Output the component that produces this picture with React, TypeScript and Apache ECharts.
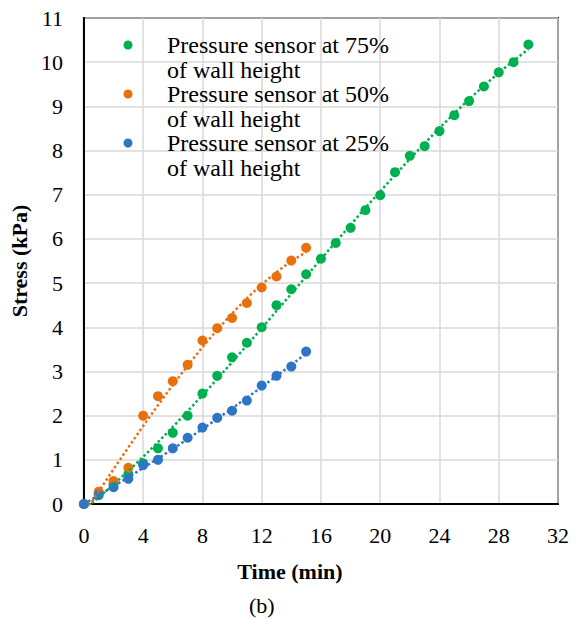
import React, { useEffect, useRef } from "react";
import * as echarts from "echarts";

// Elapsed time (min) at each reading
const time75 = [0, 1, 2, 3, 4, 5, 6, 7, 8, 9, 10, 11, 12, 13, 14, 15, 16, 17, 18, 19, 20, 21, 22, 23, 24, 25, 26, 27, 28, 29, 30];
const time50 = [0, 1, 2, 3, 4, 5, 6, 7, 8, 9, 10, 11, 12, 13, 14, 15];
const time25 = [0, 1, 2, 3, 4, 5, 6, 7, 8, 9, 10, 11, 12, 13, 14, 15];

// Measured stress (kPa)
const stress75 = [0, 0.25, 0.45, 0.68, 0.92, 1.26, 1.61, 2.0, 2.5, 2.9, 3.32, 3.65, 4.0, 4.5, 4.86, 5.2, 5.55, 5.91, 6.25, 6.65, 6.99, 7.51, 7.88, 8.1, 8.44, 8.8, 9.12, 9.45, 9.77, 10.0, 10.4];
const stress50 = [0, 0.28, 0.52, 0.82, 2.0, 2.44, 2.78, 3.15, 3.7, 3.98, 4.21, 4.55, 4.9, 5.15, 5.51, 5.8];
const stress25 = [0, 0.2, 0.38, 0.57, 0.88, 1.0, 1.26, 1.5, 1.73, 1.95, 2.11, 2.34, 2.68, 2.9, 3.11, 3.45];

const seriesNames = [
  "Pressure sensor at 75%\nof wall height",
  "Pressure sensor at 50%\nof wall height",
  "Pressure sensor at 25%\nof wall height",
];
const seriesColors = ["#00B050", "#E8700F", "#2E75C6"];
// Polynomial order of each dotted trendline
const trendOrders = [3, 3, 2];

const FONT = "Liberation Serif";

// Least-squares polynomial trendline of the given order
function polyFit(xs: number[], ys: number[], order: number) {
  const n = order + 1;
  const m: number[][] = [];
  for (let r = 0; r < n; r++) {
    const row: number[] = [];
    for (let c = 0; c < n; c++) {
      let s = 0;
      for (let i = 0; i < xs.length; i++) s += Math.pow(xs[i], r + c);
      row.push(s);
    }
    let t = 0;
    for (let i = 0; i < xs.length; i++) t += Math.pow(xs[i], r) * ys[i];
    row.push(t);
    m.push(row);
  }
  for (let c = 0; c < n; c++) {
    let p = c;
    for (let r = c + 1; r < n; r++) if (Math.abs(m[r][c]) > Math.abs(m[p][c])) p = r;
    [m[c], m[p]] = [m[p], m[c]];
    for (let r = 0; r < n; r++) {
      if (r === c) continue;
      const f = m[r][c] / m[c][c];
      for (let k = c; k <= n; k++) m[r][k] -= f * m[c][k];
    }
  }
  const coef = m.map((row, i) => row[n] / row[i]);
  return (x: number) => coef.reduce((acc, a, i) => acc + a * Math.pow(x, i), 0);
}

function trendPoints(xs: number[], ys: number[], order: number) {
  const f = polyFit(xs, ys, order);
  const xMax = xs[xs.length - 1];
  const pts: number[][] = [];
  for (let i = 0; i <= 300; i++) {
    const x = (xMax * i) / 300;
    pts.push([x, f(x)]);
  }
  return pts;
}

export default function App() {
  const ref = useRef<HTMLDivElement>(null);

  useEffect(() => {
    if (!ref.current) return;
    const chart = echarts.init(ref.current, undefined, { renderer: "svg" });
    const groups = [
      [time75, stress75],
      [time50, stress50],
      [time25, stress25],
    ];

    const scatterSeries = groups.map(([xs, ys], i) => ({
      type: "scatter",
      name: seriesNames[i],
      data: xs.map((x, j) => [x, ys[j]]),
      symbol: "circle",
      symbolSize: 10,
      itemStyle: { color: seriesColors[i], opacity: 1 },
      z: 3,
    }));

    const trendSeries = groups.map(([xs, ys], i) => ({
      type: "line",
      name: seriesNames[i] + " trend",
      data: trendPoints(xs, ys, trendOrders[i]),
      showSymbol: false,
      symbol: "none",
      clip: true,
      lineStyle: { color: seriesColors[i], width: 2.5, type: "dotted" },
      z: 4,
      silent: true,
    }));

    // Legend: a marker and two text lines for each sensor
    const legendY = [45, 94, 143];
    const legendFontSize = 24;
    const lineGap = 25;
    const legendMarkers = seriesNames.map((_, i) => ({
      type: "circle",
      shape: { cx: 128, cy: legendY[i], r: 4.5 },
      style: { fill: seriesColors[i] },
      silent: true,
    }));
    const legendTexts: any[] = [];
    seriesNames.forEach((name, i) => {
      name.split("\n").forEach((line, k) => {
        legendTexts.push({
          text: line,
          left: 167,
          top: legendY[i] + k * lineGap - legendFontSize / 2,
          padding: 0,
          textStyle: {
            fontFamily: FONT,
            fontSize: legendFontSize,
            fontWeight: "normal",
            lineHeight: legendFontSize,
            color: "#000",
          },
        });
      });
    });

    chart.setOption({
      animation: false,
      backgroundColor: "#fff",
      textStyle: { fontFamily: FONT },
      title: [
        {
          text: "(b)",
          left: 249,
          top: 594,
          padding: 0,
          textStyle: { fontFamily: FONT, fontSize: 22, fontWeight: "normal", color: "#000" },
        },
        ...legendTexts,
      ],
      graphic: legendMarkers,
      grid: {
        left: 74,
        top: 18,
        right: 23,
        bottom: 115,
        show: true,
        borderColor: "#000",
        borderWidth: 2,
      },
      xAxis: {
        type: "value",
        min: 0,
        max: 32,
        interval: 4,
        name: "Time (min)",
        nameLocation: "middle",
        nameGap: 56,
        nameTextStyle: {
          fontFamily: FONT,
          fontSize: 22,
          fontWeight: "bold",
          color: "#000",
          padding: [0, 62, 0, 0],
        },
        axisLine: { show: true, onZero: false, lineStyle: { color: "#000", width: 2 } },
        axisTick: { show: false },
        axisLabel: { fontFamily: FONT, fontSize: 22, color: "#000", margin: 20 },
        splitLine: { show: true, lineStyle: { color: "#d9d9d9", width: 1.5 } },
      },
      yAxis: {
        type: "value",
        min: 0,
        max: 11,
        interval: 1,
        name: "Stress (kPa)",
        nameLocation: "middle",
        nameGap: 45,
        nameTextStyle: {
          fontFamily: FONT,
          fontSize: 22,
          fontWeight: "bold",
          color: "#000",
        },
        axisLine: { show: true, onZero: false, lineStyle: { color: "#000", width: 2 } },
        axisTick: { show: false },
        axisLabel: { fontFamily: FONT, fontSize: 22, color: "#000", margin: 21 },
        splitLine: { show: true, lineStyle: { color: "#d9d9d9", width: 1.5 } },
      },
      series: [...scatterSeries, ...trendSeries],
    });

    return () => chart.dispose();
  }, []);

  return (
    <div
      ref={ref}
      style={{ position: "absolute", left: 0, top: 0, width: 581, height: 619 }}
    />
  );
}
